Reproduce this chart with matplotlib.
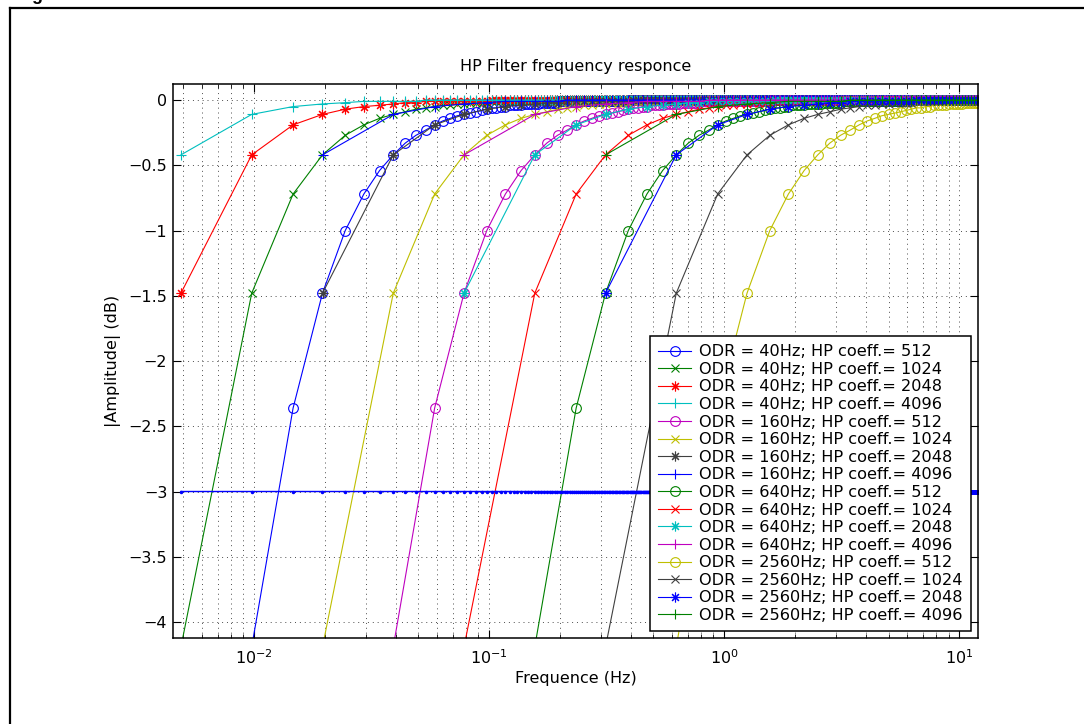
import numpy as np
import matplotlib.pyplot as plt
from matplotlib.lines import Line2D
from matplotlib.ticker import FixedLocator, LogLocator, NullFormatter, FuncFormatter

plt.rcParams["font.family"] = ["DejaVu Sans"]
plt.rcParams["mathtext.fontset"] = "dejavusans"

# Output data rates and HP filter coefficients
odr_hz = [40, 160, 640, 2560]
hp_coeff = [512, 1024, 2048, 4096]

# frequency bin width and number of bins per ODR (all end at 12.5 Hz)
bin_hz = [0.00488, 0.01953, 0.07813, 0.3125]
n_bins = [2560, 640, 160, 40]

# attenuation (dB), indexed by normalised bin j = bin * coeff / 512
att_db = [-8.74, -4.19, -2.36, -1.48, -1.00, -0.72, -0.54, -0.42, -0.33, -0.27,
          -0.23, -0.19, -0.16, -0.14, -0.12, -0.11, -0.10, -0.09, -0.08, -0.07,
          -0.06, -0.06, -0.05, -0.05, -0.04, -0.04, -0.04, -0.04, -0.03, -0.03,
          -0.03, -0.03, -0.03, -0.02, -0.02, -0.02, -0.02, -0.02, -0.02, -0.02]
att_tail_db = -0.01   # bins 41..80, flat (0 dB) after that

ref_db = -3

# MATLAB default colour order
colors = [(0, 0, 1), (0, 0.5, 0), (1, 0, 0), (0, 0.75, 0.75),
          (0.75, 0, 0.75), (0.75, 0.75, 0), (0.25, 0.25, 0.25)]
markers = ["o", "x", (8, 2, 0), "+"]
msizes = [7, 6, 7, 7]

fs = 11.5

fig = plt.figure(figsize=(10.84, 7.24), dpi=100)
ax = fig.add_axes([172.7 / 1084, 1 - 638.3 / 724, 805.6 / 1084, 554.3 / 724])

att = np.array(att_db)
n = 0
for i, odr in enumerate(odr_hz):
    k = np.arange(1, n_bins[i] + 1)
    freq = bin_hz[i] * k
    for m, coeff in enumerate(hp_coeff):
        j = k * coeff // 512
        amp = np.zeros(len(j))
        amp[j <= 80] = att_tail_db
        amp[j <= 40] = att[j[j <= 40] - 1]
        ax.plot(freq, amp, color=colors[n % 7], marker=markers[m], ms=msizes[m],
                mfc="none", mew=0.8, lw=0.8,
                label="ODR = %dHz; HP coeff.= %d" % (odr, coeff))
        n += 1

# -3 dB reference line
k = np.arange(1, n_bins[0] + 1)
ax.plot(bin_hz[0] * k, np.full(len(k), ref_db), color=(0, 0, 1), marker=".",
        ms=3, lw=1.0)

ax.set_xscale("log")
ax.set_xlim(0.0045, 12.05)
ax.set_ylim(-4.125, 0.123)
ax.yaxis.set_major_locator(FixedLocator(np.arange(-4, 0.01, 0.5)))
ax.yaxis.set_major_formatter(FuncFormatter(lambda v, p: ("%g" % v).replace("-", "\u2212")))
ax.xaxis.set_minor_locator(LogLocator(base=10, subs=np.arange(2, 10)))
ax.xaxis.set_minor_formatter(NullFormatter())

grid_style = dict(color=(0.3, 0.3, 0.3), lw=0.7, linestyle=(0, (1, 4)))
ax.grid(True, which="major", axis="both", **grid_style)
ax.grid(True, which="minor", axis="x", **grid_style)

ax.tick_params(which="both", direction="in", top=True, right=True, labelsize=fs)
ax.tick_params(axis="y", pad=4)
ax.tick_params(axis="x", pad=7)
ax.tick_params(which="major", length=6, width=0.8)
ax.tick_params(which="minor", length=3, width=0.6)
for s in ax.spines.values():
    s.set_linewidth(1.1)

ax.set_title("HP Filter frequency responce", fontsize=fs, pad=9)
ax.set_xlabel("Frequence (Hz)", fontsize=fs, labelpad=3)
ax.set_ylabel("|Amplitude| (dB)", fontsize=fs, labelpad=5)

leg = ax.legend(loc="lower right", fontsize=11.6, frameon=True, fancybox=False,
                edgecolor="black", framealpha=1, handlelength=2.0,
                handletextpad=0.55, labelspacing=0.16, borderpad=0.5,
                borderaxespad=0.45)
leg.get_frame().set_linewidth(1.1)

# page frame and clipped caption from the source document
fig.add_artist(Line2D([10 / 1084, 10 / 1084], [0, 1 - 8 / 724], color="black", lw=1.6))
fig.add_artist(Line2D([10 / 1084, 1], [1 - 8 / 724, 1 - 8 / 724], color="black", lw=1.6))
fig.text(17 / 1084, 1.0, "Fig", fontsize=13, fontweight="bold", va="baseline",
         family="Liberation Sans")

fig.savefig("out.png", dpi=100)
